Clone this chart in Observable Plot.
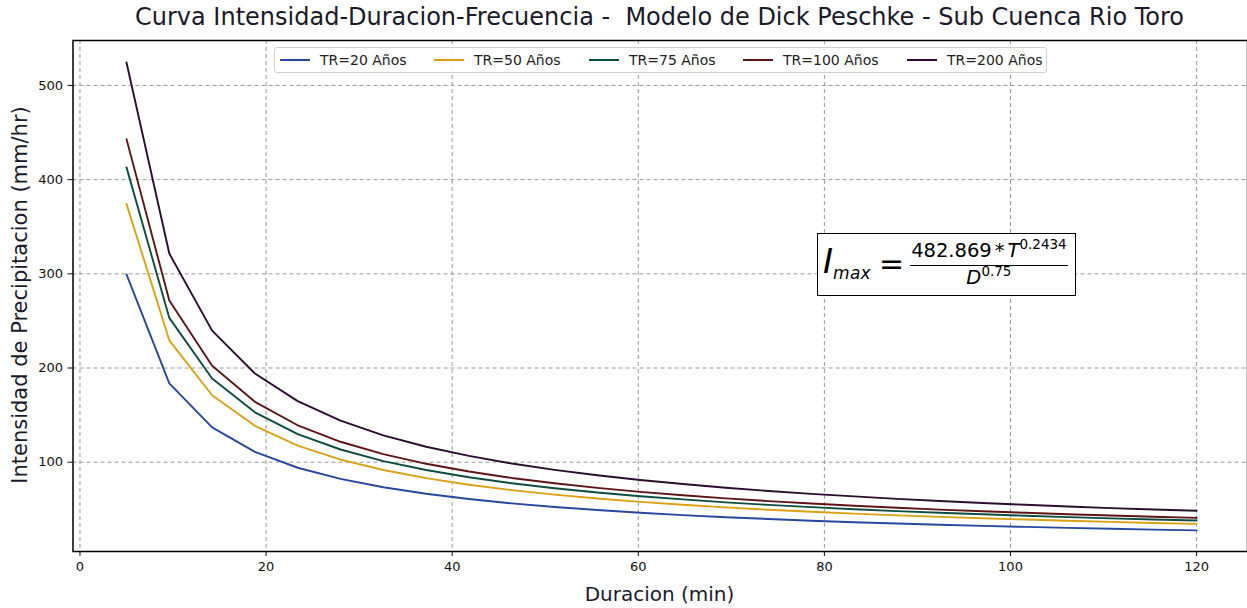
<!DOCTYPE html>
<html>
<head>
<meta charset="utf-8">
<script src="https://cdn.jsdelivr.net/npm/d3@7"></script>
<script src="https://cdn.jsdelivr.net/npm/@observablehq/plot@0.6"></script>
<style>
  html, body { margin: 0; padding: 0; background: white; }
  #wrap { position: relative; width: 1247px; height: 608px; overflow: hidden; font-family: "DejaVu Sans", sans-serif; color: #111; }
  #title { position: absolute; left: 72px; width: 1175px; top: 2px; text-align: center; font-size: 24px; line-height: 30px; color: #1a1a2a; white-space: pre; }
  #chart { position: absolute; left: 0; top: 38px; }
  #xlabel { position: absolute; left: 72px; width: 1175px; top: 582px; text-align: center; font-size: 20px; line-height: 24px; color: #1a1a2a; }
  #ylabel { position: absolute; left: 20px; top: 295px; transform: translate(-50%, -50%) rotate(-90deg); font-size: 21px; line-height: 24px; white-space: nowrap; color: #1a1a2a; }
  #legend { position: absolute; left: 274px; top: 47px; width: 773px; height: 26px; border: 1px solid #d0d0d0; border-radius: 3px; background: rgba(255,255,255,0.85); box-sizing: border-box; }
  .li { position: absolute; top: 0; height: 24px; display: flex; align-items: center; font-size: 14px; color: #222; white-space: nowrap; }
  .sw { width: 30px; height: 0; border-top: 2px solid; margin-right: 10px; }
  #formula { position: absolute; left: 817px; top: 233px; width: 259px; height: 63px; border: 1.5px solid #000; box-sizing: border-box; background: white; display: flex; align-items: center; padding-left: 5px; font-family: "DejaVu Sans", sans-serif; color: #000; }
  .bigI { font-style: oblique; font-size: 34px; line-height: 34px; position: relative; top: -1px; white-space: nowrap; }
  .bigI sub { font-size: 17px; vertical-align: baseline; position: relative; top: 6px; letter-spacing: 0.3px; }
  .eq { font-size: 30px; margin: 0 6px 0 8px; position: relative; top: -1px; }
  .frac { display: flex; flex-direction: column; align-items: center; }
  .num { font-size: 19.5px; line-height: 22px; padding: 0 1px 2px 1px; border-bottom: 1.5px solid #000; white-space: nowrap; }
  .den { font-size: 19.5px; line-height: 22px; padding-top: 1px; white-space: nowrap; }
  .frac i { font-style: oblique; }
  .frac sup { font-size: 13.5px; vertical-align: baseline; position: relative; top: -8px; }
  .star { margin: 0 3px; }
</style>
</head>
<body>
<div id="wrap">
  <div id="title"></div>
  <div id="chart"></div>
  <div id="xlabel"></div>
  <div id="ylabel"></div>
  <div id="legend"></div>
  <div id="formula">
    <span class="bigI">I<sub>max</sub></span><span class="eq">=</span>
    <span class="frac"><span class="num">482.869<span class="star">*</span><i>T</i><sup>0.2434</sup></span><span class="den"><i>D</i><sup>0.75</sup></span></span>
  </div>
</div>
<script>
// ---- Data ----
const titleText = "Curva Intensidad-Duracion-Frecuencia -  Modelo de Dick Peschke - Sub Cuenca Rio Toro";
const xLabel = "Duracion (min)";
const yLabel = "Intensidad de Precipitacion (mm/hr)";

const duration = [5, 9.6, 14.2, 18.8, 23.4, 28, 32.6, 37.2, 41.8, 46.4, 51, 55.6, 60.2, 64.8, 69.4, 74, 78.6, 83.2, 87.8, 92.4, 97, 101.6, 106.2, 110.8, 115.4, 120];

const tr20  = [299.4, 183.6, 136.9, 110.9, 94.1, 82.3, 73.4, 66.5, 60.9, 56.3, 52.5, 49.2, 46.3, 43.8, 41.6, 39.7, 37.9, 36.3, 34.9, 33.6, 32.4, 31.3, 30.3, 29.3, 28.4, 27.6];
const tr50  = [374.2, 229.4, 171.1, 138.6, 117.6, 102.8, 91.7, 83.1, 76.1, 70.4, 65.6, 61.5, 57.9, 54.8, 52.0, 49.6, 47.4, 45.4, 43.6, 42.0, 40.5, 39.1, 37.8, 36.6, 35.5, 34.5];
const tr75  = [413.0, 253.2, 188.8, 153.0, 129.8, 113.5, 101.2, 91.7, 84.0, 77.7, 72.4, 67.8, 63.9, 60.5, 57.4, 54.7, 52.3, 50.1, 48.1, 46.3, 44.7, 43.2, 41.7, 40.4, 39.2, 38.1];
const tr100 = [443.0, 271.6, 202.5, 164.1, 139.2, 121.7, 108.6, 98.3, 90.1, 83.3, 77.6, 72.7, 68.5, 64.9, 61.6, 58.7, 56.1, 53.8, 51.6, 49.7, 47.9, 46.3, 44.8, 43.4, 42.1, 40.9];
const tr200 = [524.4, 321.5, 239.7, 194.2, 164.8, 144.1, 128.5, 116.4, 106.7, 98.6, 91.9, 86.1, 81.1, 76.8, 72.9, 69.5, 66.4, 63.7, 61.1, 58.8, 56.7, 54.8, 53.0, 51.3, 49.8, 48.4];

const seriesNames = ["TR=20 Años", "TR=50 Años", "TR=75 Años", "TR=100 Años", "TR=200 Años"];
const seriesColors = ["#2748a0", "#dca015", "#0d4d40", "#5e1414", "#2c0c30"];
const xTicks = [0, 20, 40, 60, 80, 100, 120];
const yTicks = [100, 200, 300, 400, 500];

// ---- Build table ----
const seriesValues = [tr20, tr50, tr75, tr100, tr200];
const rows = [];
seriesNames.forEach((name, k) => {
  duration.forEach((d, i) => rows.push({ serie: name, d, v: seriesValues[k][i] }));
});

document.getElementById("title").textContent = titleText;
document.getElementById("xlabel").textContent = xLabel;
document.getElementById("ylabel").textContent = yLabel;

// legend
const legendX = [5, 159, 314, 468, 632];
const leg = document.getElementById("legend");
seriesNames.forEach((name, k) => {
  const item = document.createElement("div");
  item.className = "li";
  item.style.left = legendX[k] + "px";
  const sw = document.createElement("span");
  sw.className = "sw";
  sw.style.borderTopColor = seriesColors[k];
  const t = document.createElement("span");
  t.textContent = name;
  item.appendChild(sw); item.appendChild(t);
  leg.appendChild(item);
});

const chart = Plot.plot({
  width: 1247,
  height: 570,
  marginLeft: 72.5,
  marginRight: 0,
  marginTop: 2,
  marginBottom: 57,
  style: { fontFamily: "DejaVu Sans, sans-serif", fontSize: "13px", color: "#111", background: "white", overflow: "visible" },
  x: { domain: [-0.75, 125.47], label: null },
  y: { domain: [5.2, 547.7], label: null },
  color: { domain: seriesNames, range: seriesColors },
  marks: [
    Plot.gridX(xTicks, { stroke: "#9a9a9a", strokeOpacity: 1, strokeWidth: 1, strokeDasharray: "4,3" }),
    Plot.gridY(yTicks, { stroke: "#9a9a9a", strokeOpacity: 1, strokeWidth: 1, strokeDasharray: "4,3" }),
    Plot.line(rows, { x: "d", y: "v", z: "serie", stroke: "serie", strokeWidth: 1.9 }),
    Plot.frame({ stroke: "#000", strokeWidth: 1.5 }),
    Plot.axisX(xTicks, { tickSize: 5, tickPadding: 5, fontSize: 13, label: null }),
    Plot.axisY(yTicks, { tickSize: 5, tickPadding: 5, fontSize: 13, label: null })
  ]
});
document.getElementById("chart").appendChild(chart);
</script>
</body>
</html>
